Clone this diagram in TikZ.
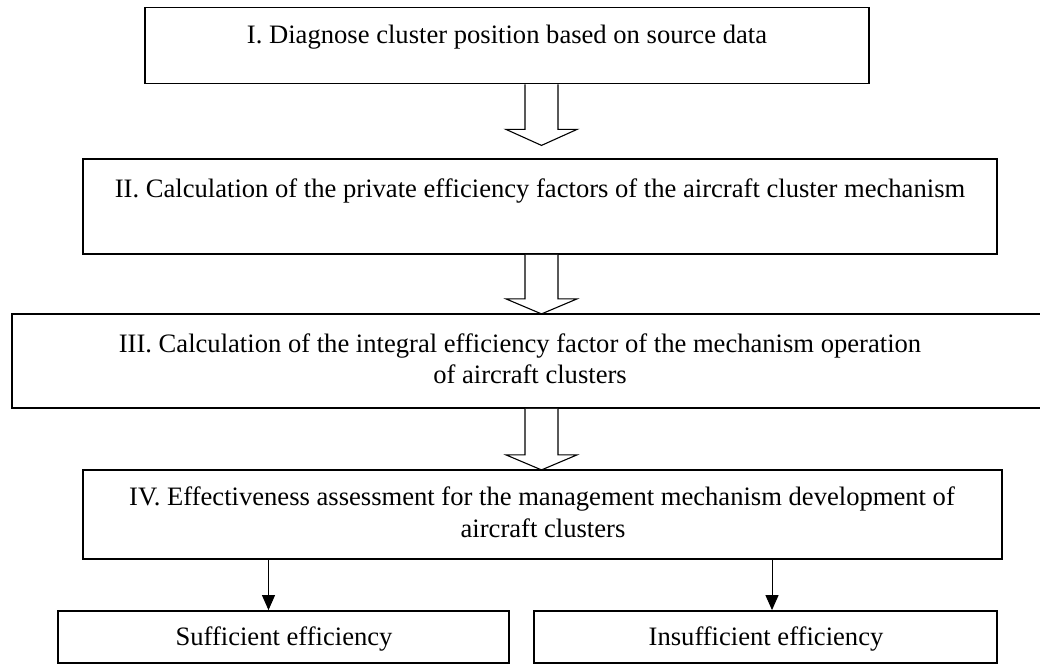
\documentclass[tikz,border=0pt]{standalone}
\usepackage{fontspec}
\setmainfont{Liberation Serif}
\usetikzlibrary{arrows.meta,calc}
\begin{document}
\begin{tikzpicture}[x=1pt,y=-1pt,
  box/.style={draw,line width=1.8pt,inner sep=0pt,anchor=center},
  lbl/.style={inner sep=0pt,anchor=base,font=\fontsize{26.6}{31}\selectfont},
  hollow/.style={draw,line width=1.1pt,fill=white,line join=miter},
  thin/.style={line width=1pt,-{Triangle[length=15pt,width=13pt]}}]
\useasboundingbox (0,0) rectangle (1040,664);
\clip (0,0) rectangle (1040,664);
% boxes
\node[box,minimum width=724pt,minimum height=76pt] (b1) at (507,45.5) {};
\node[box,minimum width=914pt,minimum height=95pt] (b2) at (540,206.5) {};
\node[box,minimum width=1040pt,minimum height=94pt] (b3) at (532,361) {};
\node[box,minimum width=919pt,minimum height=89pt] (b4) at (542.5,514.5) {};
\node[box,minimum width=451pt,minimum height=52pt] (b5) at (283.5,637) {};
\node[box,minimum width=463pt,minimum height=52pt] (b6) at (765.5,637) {};
% texts
\node[lbl] (t1) at (507,43) {I. Diagnose cluster position based on source data};
\node[lbl] (t2) at (540,197) {II. Calculation of the private efficiency factors of the aircraft cluster mechanism};
\node[lbl] (t3a) at (520,352) {III. Calculation of the integral efficiency factor of the mechanism operation};
\node[lbl] (t3b) at (530,383) {of aircraft clusters};
\node[lbl] (t4a) at (542,505) {IV. Effectiveness assessment for the management mechanism development of};
\node[lbl] (t4b) at (543,537) {aircraft clusters};
\node[lbl] (t5) at (284,645) {Sufficient efficiency};
\node[lbl] (t6) at (766,645) {Insufficient efficiency};
% hollow arrows
\coordinate (ax) at (541.5,0);
\draw[hollow] ($(b1.south -| ax)+(-16.5,0)$) -- ++(0,45) -- ++(-19,0) -- ++(35.5,16) -- ++(35.5,-16) -- ++(-19,0) -- ++(0,-45);
\draw[hollow] ($(b2.south -| ax)+(-16.5,0)$) -- ++(0,44) -- ++(-19,0) -- ++(35.5,15) -- ++(35.5,-15) -- ++(-19,0) -- ++(0,-44);
\draw[hollow] ($(b3.south -| ax)+(-16.5,0)$) -- ++(0,46) -- ++(-19,0) -- ++(35.5,15) -- ++(35.5,-15) -- ++(-19,0) -- ++(0,-46);
% thin arrows
\coordinate (s1) at (268.5,0);
\coordinate (s2) at (772,0);
\draw[thin] (b4.south -| s1) -- (b5.north -| s1);
\draw[thin] (b4.south -| s2) -- (b6.north -| s2);
\end{tikzpicture}
\end{document}
